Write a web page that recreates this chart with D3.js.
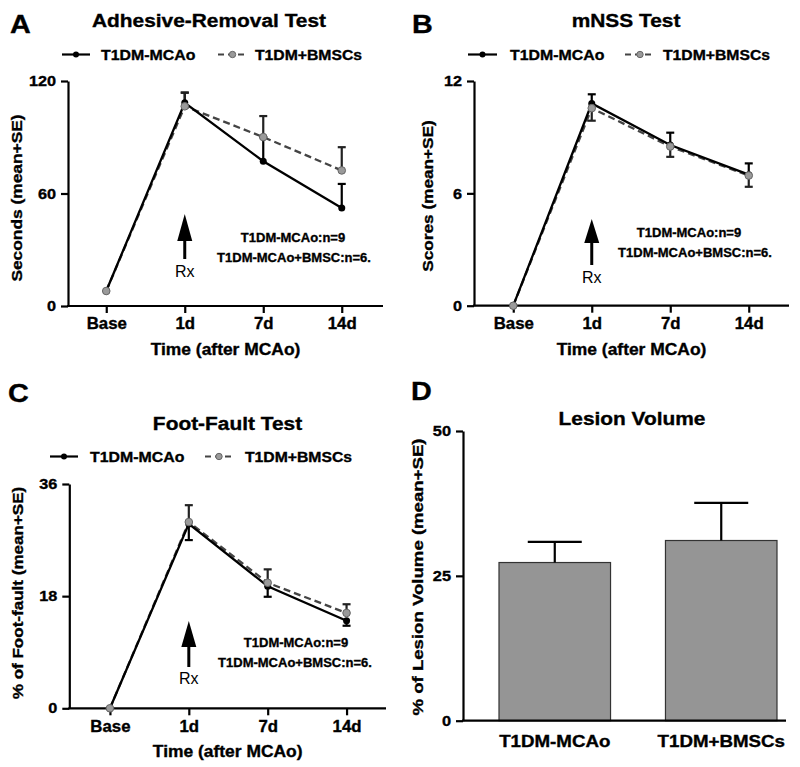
<!DOCTYPE html>
<html><head><meta charset="utf-8">
<script src="https://cdn.jsdelivr.net/npm/d3@7"></script>
<style>body{margin:0;background:#fff} svg{display:block} text{font-family:"Liberation Sans",Arial,sans-serif}
text.bold{stroke:#000;stroke-width:0.35px}</style>
</head><body><svg id="c" width="800" height="767"></svg>
<script>
// ---------- data ----------
const timepoints = ["Base","1d","7d","14d"];
const seriesNames = ["T1DM-MCAo","T1DM+BMSCs"];
const adhesiveMCAo   = [8, 108.4, 77.2, 52.3];
const adhesiveMCAoSE = [0, 5.4, 12.9, 12.8];
const adhesiveBMSC   = [8, 106.5, 90.1, 72.3];
const adhesiveBMSCSE = [0, 7.3, 11.2, 12.4];
const adhesiveTicks  = [0, 60, 120];
const mnssMCAo   = [0, 10.8, 8.58, 7.0];
const mnssMCAoSE = [0, 0.49, 0.66, 0.6];
const mnssBMSC   = [0, 10.55, 8.5, 6.95];
const mnssBMSCSE = [0, 0.67, 0.55, 0.6];
const mnssTicks  = [0, 6, 12];
const footMCAo   = [0, 29.6, 19.6, 14.05];
const footMCAoSE = [0, 2.6, 1.7, 0.8];
const footBMSC   = [0, 29.9, 20.15, 15.3];
const footBMSCSE = [0, 2.7, 2.15, 1.4];
const footTicks  = [0, 18, 36];
const lesionGroups = ["T1DM-MCAo","T1DM+BMSCs"];
const lesionMean = [27.3, 31.1];
const lesionSE   = [3.55, 6.5];
const lesionTicks = [0, 25, 50];
const nNotes = ["T1DM-MCAo:n=9","T1DM-MCAo+BMSC:n=6."];

// ---------- helpers ----------
const svg = d3.select("#c");
function T(g, x, y, s, size, opt = {}) {
  const w = opt.w || "bold";
  return g.append("text")
    .attr("class", w === "bold" ? "bold" : null)
    .attr("transform", `translate(${x},${y})${opt.rot ? " rotate(-90)" : ""} scale(${opt.sx || 1},1)`)
    .attr("text-anchor", opt.anchor || "middle")
    .attr("font-size", size)
    .attr("font-weight", w)
    .attr("fill", "#000")
    .text(s);
}
function styleAxis(a, size, sx, isY) {
  a.selectAll("path.domain").attr("stroke", "#000").attr("stroke-width", 2.2);
  a.selectAll(".tick line").attr("stroke", "#000").attr("stroke-width", 2.2);
  a.selectAll(".tick text").attr("font-size", size).attr("font-weight", "bold").attr("class", "bold")
    .attr("fill", "#000").attr("font-family", '"Liberation Sans",Arial,sans-serif')
    .attr("transform", `scale(${sx},1)`);
  if (isY) a.selectAll(".tick text").attr("x", -12 / sx);
}

function linePanel(c) {
  const g = svg.append("g");
  const x = d3.scalePoint().domain(timepoints).range(c.xr).padding(0.5);
  const y = d3.scaleLinear().domain([0, c.ticks[c.ticks.length - 1]]).range(c.yr);

  // titles
  T(g, c.letter[1], c.letter[2], c.letter[0], 25, { anchor: "start", sx: 1.15 });
  T(g, c.title[1], c.title[2], c.title[0], 18.5, { sx: 1.13 });

  // legend
  const L = c.legend;
  g.append("line").attr("x1", L.a[0]).attr("x2", L.a[1]).attr("y1", L.y).attr("y2", L.y)
    .attr("stroke", "#000").attr("stroke-width", 2.2);
  g.append("circle").attr("cx", (L.a[0] + L.a[1]) / 2).attr("cy", L.y).attr("r", 3).attr("fill", "#000");
  T(g, L.a[2], L.y + 5.5, seriesNames[0], 15, { anchor: "start", sx: 1.06 });
  g.append("line").attr("x1", L.b[0]).attr("x2", L.b[1]).attr("y1", L.y).attr("y2", L.y)
    .attr("stroke", "#444").attr("stroke-width", 2.2).attr("stroke-dasharray", "6,4");
  g.append("circle").attr("cx", (L.b[0] + L.b[1]) / 2).attr("cy", L.y).attr("r", 3.2)
    .attr("fill", "#9a9a9a").attr("stroke", "#666");
  T(g, L.b[2], L.y + 5.5, seriesNames[1], 15, { anchor: "start", sx: 1.05 });

  // axes
  const ya = g.append("g").attr("transform", `translate(${c.ax},0)`)
    .call(d3.axisLeft(y).tickValues(c.ticks).tickSize(7).tickPadding(5).tickSizeOuter(0));
  styleAxis(ya, 14.5, 1.12, true);
  const xa = g.append("g").attr("transform", `translate(0,${y(0)})`)
    .call(d3.axisBottom(x).tickSize(7).tickPadding(5).tickSizeOuter(0));
  xa.select("path.domain").remove();
  styleAxis(xa, 16, 1.05, false);
  g.append("line").attr("x1", c.ax - 1).attr("x2", c.xend).attr("y1", y(0)).attr("y2", y(0))
    .attr("stroke", "#000").attr("stroke-width", 2.2);

  T(g, (c.ax + c.xend) / 2, c.xtitleY, "Time (after MCAo)", 16, { sx: 1.09 });
  T(g, c.ytitle[1], c.ytitle[2], c.ytitle[0], 15.5, { rot: true, sx: c.ytitle[3] });

  // arrow + Rx
  const ax1 = x("1d"), A = c.arrow;
  g.append("line").attr("x1", ax1).attr("x2", ax1).attr("y1", A.base - 3).attr("y2", A.bottom)
    .attr("stroke", "#000").attr("stroke-width", 3);
  g.append("path").attr("d", `M${ax1},${A.top}L${ax1 + 7.5},${A.base}L${ax1 - 7.5},${A.base}Z`).attr("fill", "#000");
  T(g, ax1, A.rx, "Rx", 16, { w: "normal" });

  // n notes
  c.notes.forEach((p, i) => T(g, p[0], p[1], nNotes[i], 13));

  // lines
  const line = d3.line().x((d, i) => x(timepoints[i])).y(d => y(d));
  g.append("path").attr("d", line(c.b)).attr("fill", "none").attr("stroke", "#444")
    .attr("stroke-width", 2.3).attr("stroke-dasharray", "7,4");
  g.append("path").attr("d", line(c.a)).attr("fill", "none").attr("stroke", "#000").attr("stroke-width", 2.3);

  // error bars
  function err(vals, se, other, color) {
    vals.forEach((v, i) => {
      if (!se[i]) return;
      let dir = 1;
      if (c.mode === "outward" && v < other[i]) dir = -1;
      const px = x(timepoints[i]), y0 = y(v), y1 = y(v + dir * se[i]);
      g.append("line").attr("x1", px).attr("x2", px).attr("y1", y0).attr("y2", y1)
        .attr("stroke", color).attr("stroke-width", 2.2);
      g.append("line").attr("x1", px - 4).attr("x2", px + 4).attr("y1", y1).attr("y2", y1)
        .attr("stroke", color).attr("stroke-width", 2.2);
    });
  }
  err(c.a, c.aSE, c.b, "#000");
  err(c.b, c.bSE, c.a, "#222");

  // dots
  g.selectAll(null).data(c.a).join("circle")
    .attr("cx", (d, i) => x(timepoints[i])).attr("cy", d => y(d)).attr("r", 3.5).attr("fill", "#000");
  g.selectAll(null).data(c.b).join("circle")
    .attr("cx", (d, i) => x(timepoints[i])).attr("cy", d => y(d)).attr("r", 3.8)
    .attr("fill", "#9a9a9a").attr("stroke", "#666").attr("stroke-width", 1);
}

// ---------- Panel A ----------
linePanel({
  letter: ["A", 10, 33], title: ["Adhesive-Removal Test", 209, 27],
  legend: { y: 54.5, a: [62, 90, 101], b: [218, 247, 255] },
  xr: [67, 381], ax: 68, xend: 383, yr: [306, 81], ticks: adhesiveTicks,
  xtitleY: 355, ytitle: ["Seconds (mean+SE)", 22, 198, 1.12],
  arrow: { top: 214, base: 241, bottom: 259, rx: 277 },
  notes: [[293, 242], [294, 262]],
  a: adhesiveMCAo, aSE: adhesiveMCAoSE, b: adhesiveBMSC, bSE: adhesiveBMSCSE, mode: "up"
});
// ---------- Panel B ----------
linePanel({
  letter: ["B", 412, 33], title: ["mNSS Test", 626, 27],
  legend: { y: 54.5, a: [468, 497, 510], b: [625, 655, 663] },
  xr: [474, 788], ax: 474, xend: 789, yr: [305.7, 81], ticks: mnssTicks,
  xtitleY: 355, ytitle: ["Scores (mean+SE)", 433, 196, 1.11],
  arrow: { top: 219, base: 243, bottom: 265, rx: 283 },
  notes: [[689, 237], [695, 257]],
  a: mnssMCAo, aSE: mnssMCAoSE, b: mnssBMSC, bSE: mnssBMSCSE, mode: "outward"
});
// ---------- Panel C ----------
linePanel({
  letter: ["C", 8, 402], title: ["Foot-Fault Test", 227.5, 430],
  legend: { y: 456.5, a: [50, 78, 90], b: [205, 233, 245] },
  xr: [70.5, 386], ax: 69.3, xend: 386, yr: [708.3, 484], ticks: footTicks,
  xtitleY: 757, ytitle: ["% of Foot-fault (mean+SE)", 23, 593, 1.1],
  arrow: { top: 621, base: 647, bottom: 667, rx: 684 },
  notes: [[296, 647], [295, 667]],
  a: footMCAo, aSE: footMCAoSE, b: footBMSC, bSE: footBMSCSE, mode: "outward"
});

// ---------- Panel D ----------
(function () {
  const g = svg.append("g");
  const y = d3.scaleLinear().domain([0, 50]).range([720.7, 431]);
  const x = d3.scaleBand().domain(lesionGroups).range([499, 777]).paddingInner(0.33).paddingOuter(0);
  const ax = 463, xend = 786;
  T(g, 411, 400, "D", 25, { anchor: "start", sx: 1.15 });
  T(g, 632, 425, "Lesion Volume", 18.5, { sx: 1.13 });
  T(g, 423, 577, "% of Lesion Volume (mean+SE)", 15.5, { rot: true, sx: 1.2 });

  g.selectAll(null).data(lesionMean).join("rect")
    .attr("x", (d, i) => x(lesionGroups[i])).attr("width", x.bandwidth())
    .attr("y", d => y(d)).attr("height", d => y(0) - y(d))
    .attr("fill", "#959595").attr("stroke", "#333").attr("stroke-width", 1.2);
  lesionMean.forEach((m, i) => {
    const cx = x(lesionGroups[i]) + x.bandwidth() / 2, yt = y(m + lesionSE[i]);
    g.append("line").attr("x1", cx).attr("x2", cx).attr("y1", y(m)).attr("y2", yt)
      .attr("stroke", "#000").attr("stroke-width", 2.2);
    g.append("line").attr("x1", cx - 27).attr("x2", cx + 27).attr("y1", yt).attr("y2", yt)
      .attr("stroke", "#000").attr("stroke-width", 2.2);
  });

  const ya = g.append("g").attr("transform", `translate(${ax},0)`)
    .call(d3.axisLeft(y).tickValues(lesionTicks).tickSize(7).tickPadding(5).tickSizeOuter(0));
  styleAxis(ya, 14.5, 1.13, true);
  g.append("line").attr("x1", ax - 1).attr("x2", xend).attr("y1", y(0)).attr("y2", y(0))
    .attr("stroke", "#000").attr("stroke-width", 2.2);
  lesionGroups.forEach(s => T(g, x(s) + x.bandwidth() / 2, 747, s, 16, { sx: 1.17 }));
})();
</script></body></html>
